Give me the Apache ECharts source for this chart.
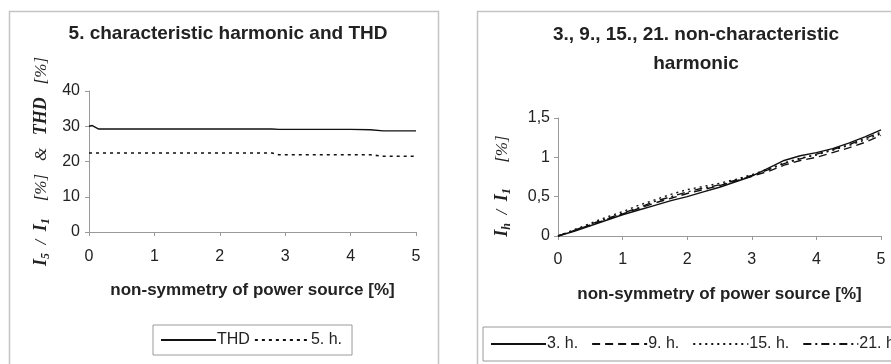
<!DOCTYPE html>
<html>
<head>
<meta charset="utf-8">
<script src="https://cdn.jsdelivr.net/npm/echarts@6/dist/echarts.min.js"></script>
<style>
  html, body { margin: 0; padding: 0; background: #fff; }
  #chart { width: 891px; height: 364px; }
</style>
</head>
<body>
<div id="chart"></div>
<script>
// Left panel: THD and 5th harmonic vs. supply asymmetry
const asymLeft = [0, 0.05, 0.15, 0.5, 1, 1.5, 2, 2.5, 2.8, 2.9, 3, 3.5, 4, 4.3, 4.5, 5];
const thd      = [30, 30.2, 29.2, 29.2, 29.2, 29.2, 29.2, 29.2, 29.2, 29.1, 29.1, 29.1, 29.1, 29.0, 28.7, 28.7];
const h5       = [22.4, 22.4, 22.4, 22.4, 22.4, 22.4, 22.4, 22.4, 22.4, 21.9, 21.9, 21.9, 21.9, 21.9, 21.5, 21.5];

// Right panel: non-characteristic harmonics vs. supply asymmetry
const asymRight = [0, 0.25, 0.5, 0.75, 1, 1.25, 1.5, 1.75, 2, 2.25, 2.5, 2.75, 3, 3.25, 3.5, 3.75, 4, 4.25, 4.5, 4.75, 5];
const h3  = [0, 0.06, 0.13, 0.20, 0.27, 0.33, 0.39, 0.45, 0.50, 0.56, 0.62, 0.69, 0.76, 0.86, 0.96, 1.02, 1.06, 1.11, 1.18, 1.26, 1.35];
const h9  = [0, 0.07, 0.14, 0.21, 0.28, 0.35, 0.42, 0.48, 0.54, 0.59, 0.64, 0.70, 0.76, 0.82, 0.90, 0.96, 1.00, 1.06, 1.12, 1.19, 1.28];
const h15 = [0, 0.08, 0.16, 0.24, 0.31, 0.39, 0.46, 0.53, 0.59, 0.63, 0.67, 0.72, 0.78, 0.85, 0.93, 0.99, 1.03, 1.09, 1.15, 1.22, 1.30];
const h21 = [0, 0.07, 0.15, 0.22, 0.29, 0.36, 0.44, 0.50, 0.56, 0.61, 0.65, 0.71, 0.77, 0.84, 0.92, 0.98, 1.04, 1.10, 1.16, 1.24, 1.32];

const leftTitle = '5. characteristic harmonic and THD';
const rightTitle = '3., 9., 15., 21. non-characteristic\nharmonic';
const xName = 'non-symmetry of power source [%]';
const xNameRight = 'non-symmetry of power source [%]';
const leftSeriesNames = ['THD', '5. h.'];
const rightSeriesNames = ['3. h.', '9. h.', '15. h.', '21. h'];

const pair = (xs, ys) => xs.map((x, i) => [x, ys[i]]);

const sans = 'Liberation Sans, Arial, sans-serif';
const serif = 'Liberation Serif, Times New Roman, serif';
const axisGrey = '#9a9a9a';
const textCol = '#222';
const ink = '#111';

// italic serif quantity names with subscripts
const yNameRich = {
  i: { fontFamily: serif, fontStyle: 'italic', fontWeight: 'bold', fontSize: 18, color: textCol },
  s: { fontFamily: serif, fontStyle: 'italic', fontWeight: 'bold', fontSize: 12, color: textCol, padding: [9, 0, 0, 0] },
  p: { fontFamily: serif, fontStyle: 'italic', fontSize: 17, color: textCol }
};

function xAxis(gridIndex, name, nameGap, margin) {
  return {
    type: 'value', gridIndex, min: 0, max: 5, interval: 1,
    name, nameLocation: 'middle', nameGap,
    nameTextStyle: { fontFamily: sans, fontWeight: 'bold', fontSize: 17, color: textCol },
    axisLine: { lineStyle: { color: axisGrey } },
    axisTick: { show: true, length: 4, lineStyle: { color: axisGrey } },
    axisLabel: { margin, fontFamily: sans, fontSize: 16, color: textCol },
    splitLine: { show: false }
  };
}

function legendBox(data, left, top, itemGap, padding) {
  return {
    data, left, top, width: 460,
    padding, borderColor: '#9a9a9a', borderWidth: 1,
    itemWidth: 55, itemHeight: 10, itemGap,
    itemStyle: { color: 'rgba(0,0,0,0)', borderColor: 'rgba(0,0,0,0)', borderWidth: 0, opacity: 0 },
    textStyle: { fontFamily: sans, fontSize: 16, color: textCol, padding: [0, 0, 0, -4] }
  };
}

function lineSeries(name, axis, xs, ys, type, width) {
  return {
    name, type: 'line', xAxisIndex: axis, yAxisIndex: axis, symbol: 'none',
    data: pair(xs, ys),
    lineStyle: { color: ink, width, type },
    itemStyle: { color: ink }
  };
}

const chart = echarts.init(document.getElementById('chart'));
chart.setOption({
  animation: false,
  backgroundColor: '#fff',
  graphic: [
    { type: 'rect', shape: { x: 9.5, y: 11.5, width: 429, height: 360 }, style: { fill: 'none', stroke: '#c4c4c4', lineWidth: 1.5 } },
    { type: 'rect', shape: { x: 477.5, y: 11.5, width: 430, height: 360 }, style: { fill: 'none', stroke: '#c4c4c4', lineWidth: 1.5 } }
  ],
  title: [
    { text: leftTitle, left: 223, top: 19, textAlign: 'center',
      textStyle: { fontFamily: sans, fontWeight: 'bold', fontSize: 19, color: textCol } },
    { text: rightTitle, left: 691, top: 15, textAlign: 'center',
      textStyle: { fontFamily: sans, fontWeight: 'bold', fontSize: 19, color: textCol, lineHeight: 29 } }
  ],
  grid: [
    { left: 89, top: 91, width: 327, height: 141 },
    { left: 558, top: 118, width: 323, height: 118 }
  ],
  xAxis: [xAxis(0, xName, 50, 17), xAxis(1, xNameRight, 50, 16)],
  yAxis: [
    {
      type: 'value', gridIndex: 0, min: 0, max: 40, interval: 10,
      name: '{i|I}{s|5}{p|  /  }{i|I}{s|1}{p|    [%]   &   }{i|THD}{p|   [%]}',
      nameLocation: 'middle', nameGap: 37, nameRotate: 90,
      nameTextStyle: { rich: yNameRich },
      axisLine: { show: true, lineStyle: { color: axisGrey } },
      axisTick: { show: true, length: 4, lineStyle: { color: axisGrey } },
      axisLabel: { margin: 9, fontFamily: sans, fontSize: 16, color: textCol },
      splitLine: { show: false }
    },
    {
      type: 'value', gridIndex: 1, min: 0, max: 1.5, interval: 0.5,
      name: '{i|I}{s|h}{p|  /  }{i|I}{s|1}{p|      [%]}',
      nameLocation: 'middle', nameGap: 45, nameRotate: 90,
      nameTextStyle: { rich: yNameRich, padding: [0, 18, 0, 0] },
      axisLine: { show: true, lineStyle: { color: axisGrey } },
      axisTick: { show: true, length: 4, lineStyle: { color: axisGrey } },
      axisLabel: { margin: 8, fontFamily: sans, fontSize: 16, color: textCol,
        formatter: v => String(v).replace('.', ',') },
      splitLine: { show: false }
    }
  ],
  legend: [
    legendBox(leftSeriesNames, 153, 325, 4, [7, 10, 7, 7]),
    legendBox(rightSeriesNames, 483, 327, 13, [9, 6, 9, 7])
  ],
  series: [
    lineSeries(leftSeriesNames[0], 0, asymLeft, thd, 'solid', 1.4),
    lineSeries(leftSeriesNames[1], 0, asymLeft, h5, [3, 4], 1.6),
    lineSeries(rightSeriesNames[0], 1, asymRight, h3, 'solid', 1.4),
    lineSeries(rightSeriesNames[1], 1, asymRight, h9, [8, 5], 1.4),
    lineSeries(rightSeriesNames[2], 1, asymRight, h15, [2, 4], 1.4),
    lineSeries(rightSeriesNames[3], 1, asymRight, h21, [8, 4, 2, 4], 1.4)
  ]
});
</script>
</body>
</html>
